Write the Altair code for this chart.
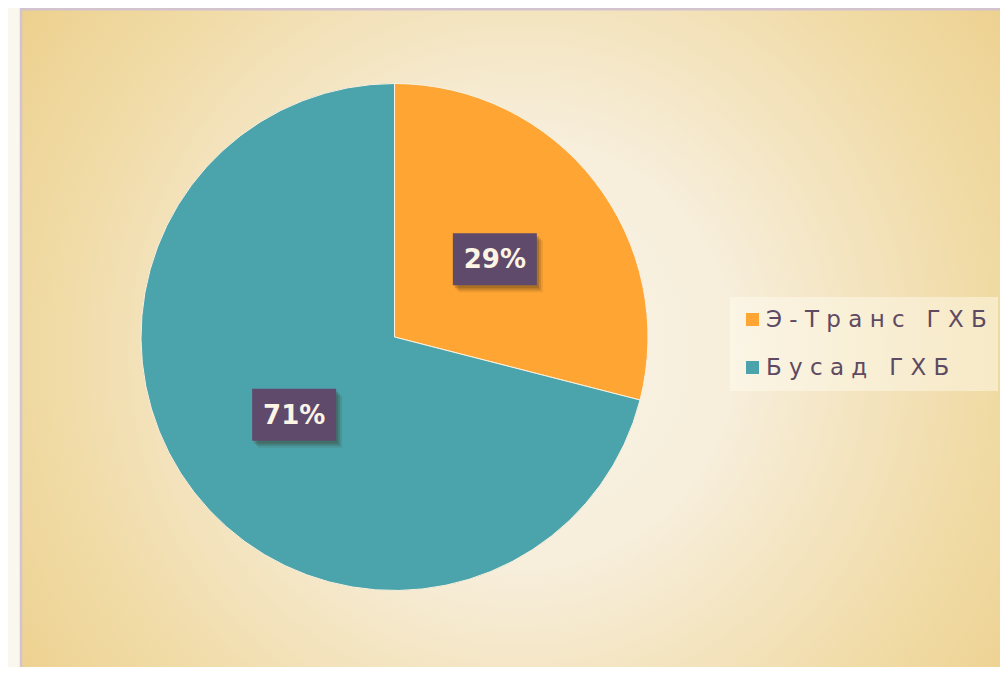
import math
import altair as alt
import pandas as pd

# ---- data ----
categories = ["Э-Транс ГХБ", "Бусад ГХБ"]
shares = [29, 71]
orders = [0, 1]
colors = ["#FFA533", "#4BA3AB"]

df = pd.DataFrame({"name": categories, "value": shares, "order": orders})
one = pd.DataFrame({"k": [0]})
rings = pd.DataFrame({"ring": list(range(1, 10))})

# ---- layout ----
W, H = 992, 659
CX, CY = 386.5, 329.0
R = 253.5
LR = 127
BW, BH = 84, 52
NBSP = "\u00a0"

bg_grad = {
    "gradient": "radial",
    "x1": 0.5, "y1": 0.5, "r1": 0,
    "x2": 0.5, "y2": 0.5, "r2": 0.72,
    "stops": [
        {"offset": 0.0, "color": "#FEFAF0"},
        {"offset": 0.3, "color": "#FCF3E0"},
        {"offset": 0.62, "color": "#F6E1AE"},
        {"offset": 1.0, "color": "#EFCB7C"},
    ],
}

background = alt.Chart(one).mark_rect(
    fill=bg_grad, stroke="#D6C7D3", strokeWidth=2.5
).encode(
    x=alt.value(13), x2=alt.value(1010), y=alt.value(1.2), y2=alt.value(690)
)

# soft halo around the pie: concentric translucent discs
pie_shadow = alt.Chart(rings).transform_calculate(
    rad=f"{R} + 2.4*datum.ring"
).mark_arc(
    theta=0, theta2=2 * math.pi, color="#6E5A3C", opacity=0.03
).encode(
    radius=alt.Radius("rad:Q", scale=None),
    x=alt.value(CX), y=alt.value(CY),
)

pie = alt.Chart(df).mark_arc(
    radius=R, stroke="#FBF1DE", strokeWidth=1
).encode(
    theta=alt.Theta("value:Q", stack=True),
    color=alt.Color(
        "name:N",
        scale=alt.Scale(domain=categories, range=colors),
        legend=alt.Legend(
            orient="none",
            legendX=722,
            legendY=289,
            title=None,
            symbolType="square",
            symbolSize=169,
            symbolStrokeWidth=0,
            labelFont="DejaVu Sans",
            labelFontSize=23,
            labelColor="#5E4A62",
            labelOffset=2,
            fillColor="rgba(255,252,242,0.45)",
            padding=11,
            rowPadding=24,
            labelLimit=400,
            labelExpr=f"join(split(datum.label, ''), '{NBSP}')",
        ),
    ),
    order=alt.Order("order:Q"),
    x=alt.value(CX),
    y=alt.value(CY),
)

calc = (
    alt.Chart(df)
    .transform_joinaggregate(total="sum(value)")
    .transform_window(cum="sum(value)", sort=[alt.SortField("order")])
    .transform_calculate(mid="(datum.cum - datum.value/2)/datum.total*2*PI")
    .transform_calculate(lx=f"{CX} + {LR}*sin(datum.mid)")
    .transform_calculate(ly=f"{CY} - {LR}*cos(datum.mid)")
    .transform_calculate(label="format(datum.value/datum.total, '.0%')")
    .transform_calculate(bx1=f"datum.lx - {BW/2}")
    .transform_calculate(bx2=f"datum.lx + {BW/2}")
    .transform_calculate(by1=f"datum.ly - {BH/2}")
    .transform_calculate(by2=f"datum.ly + {BH/2}")
)

def box_layer(dx, dy, color, opacity):
    return calc.transform_calculate(
        sx1=f"datum.bx1 + {dx}", sx2=f"datum.bx2 + {dx}"
    ).transform_calculate(
        sy1=f"datum.by1 + {dy}", sy2=f"datum.by2 + {dy}"
    ).mark_rect(color=color, opacity=opacity).encode(
        x=alt.X("sx1:Q", scale=None),
        x2="sx2:Q",
        y=alt.Y("sy1:Q", scale=None),
        y2="sy2:Q",
    )

shadow1 = box_layer(6, 7, "#3A2A10", 0.10)
shadow2 = box_layer(4, 5, "#3A2A10", 0.18)
shadow3 = box_layer(2, 3, "#3A2A10", 0.22)
box = box_layer(0, 0, "#5F4A6B", 1.0)

label = calc.mark_text(
    font="DejaVu Sans", fontWeight="bold", fontSize=26, color="#FCF4E4",
    align="center", baseline="middle", dy=1
).encode(
    x=alt.X("lx:Q", scale=None),
    y=alt.Y("ly:Q", scale=None),
    text="label:N",
)

chart = alt.layer(
    background, pie_shadow, pie, shadow1, shadow2, shadow3, box, label
).properties(
    width=W, height=H, autosize=alt.AutoSizeParams(type="none"), padding=0,
    background="#FFFCF5",
).configure_view(stroke=None)

chart.save("out.html", embed_options={"renderer": "svg", "actions": False})
